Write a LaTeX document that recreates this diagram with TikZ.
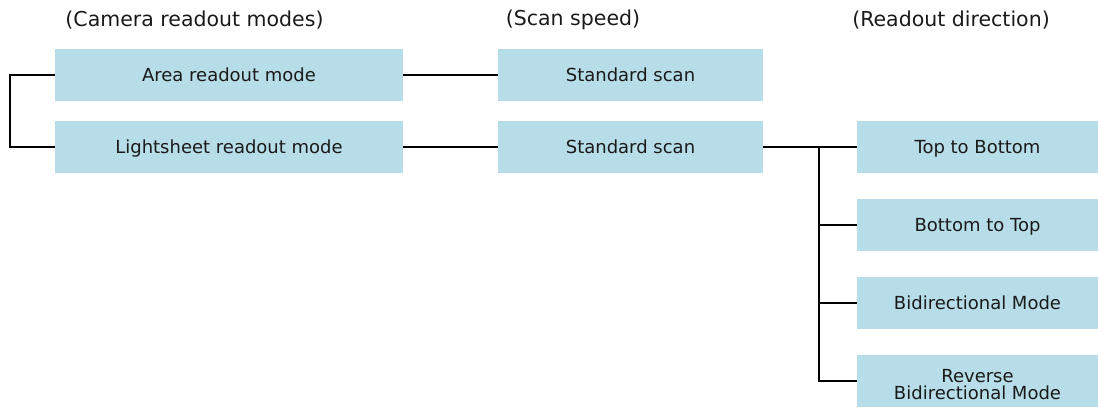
\documentclass[tikz,border=0pt]{standalone}
\usepackage{fontspec}
\setmainfont{DejaVu Sans}
\definecolor{boxblue}{HTML}{B7DDE8}
\definecolor{txt}{HTML}{1A1A1A}
\begin{document}
\begin{tikzpicture}[x=1pt,y=-1pt,
  box/.style={rectangle,fill=boxblue,draw=none,inner sep=0pt,minimum height=52pt,text=txt,font=\fontsize{18}{17.7}\selectfont,align=center,text height=13pt,text depth=0pt},
  wbox/.style={box,minimum width=348pt},
  sbox/.style={box,minimum width=265pt},
  rbox/.style={box,minimum width=241pt},
  twoline/.style={text height=37pt,text depth=0pt},
  hdr/.style={text=txt,font=\fontsize{20.5}{22}\selectfont,inner sep=0pt},
  conn/.style={line width=2pt,black}]
\useasboundingbox (0,0) rectangle (1098,414);
\node[hdr] (h1) at (194.5,20) {(Camera readout modes)};
\node[hdr] (h2) at (573,20) {(Scan speed)};
\node[hdr] (h3) at (951,20) {(Readout direction)};
\node[wbox] (area) at (229,75.3) {Area readout mode};
\node[wbox] (light) at (229,147.3) {Lightsheet readout mode};
\node[sbox] (scan1) at (630.5,75.3) {Standard scan};
\node[sbox] (scan2) at (630.5,147.3) {Standard scan};
\node[rbox] (tb) at (977.5,147.3) {Top to Bottom};
\node[rbox] (bt) at (977.5,225.3) {Bottom to Top};
\node[rbox] (bd) at (977.5,303.3) {Bidirectional Mode};
\node[rbox,twoline] (rbd) at (977.5,381.3) {Reverse\\Bidirectional Mode};
\coordinate (lb) at (10,75.3);
\coordinate (tr) at (819,147.3);
\draw[conn] (area.west) -- (lb) |- (light.west);
\draw[conn] (area.east) -- (scan1.west);
\draw[conn] (light.east) -- (scan2.west);
\draw[conn] (scan2.east) -- (tb.west);
\draw[conn] (tr) |- (bt.west);
\draw[conn] (tr) |- (bd.west);
\draw[conn] (tr) |- (rbd.west);
\end{tikzpicture}
\end{document}
